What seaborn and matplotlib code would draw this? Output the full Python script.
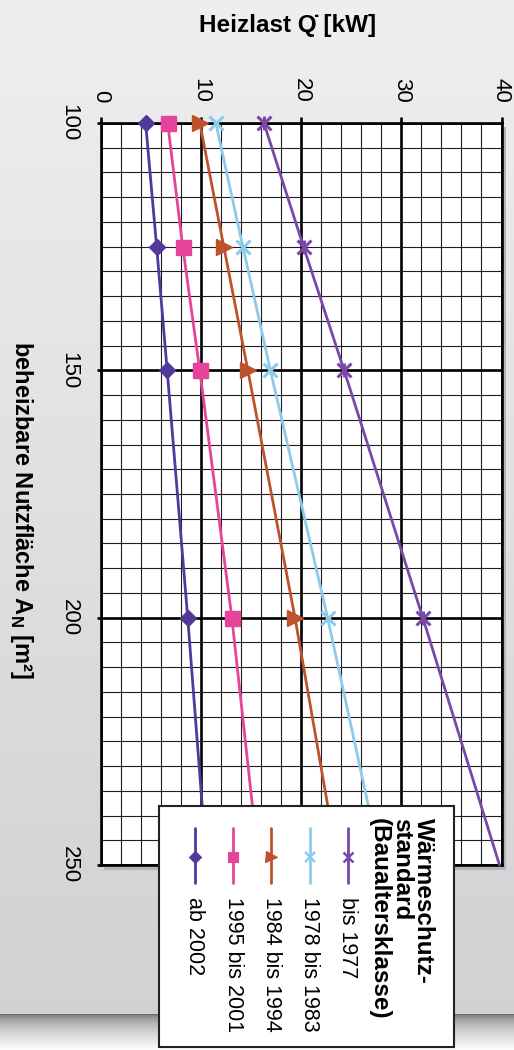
import numpy as np
import pandas as pd
import matplotlib
matplotlib.use("Agg")
import matplotlib.pyplot as plt
import seaborn as sns
from matplotlib.path import Path
from matplotlib.lines import Line2D
from matplotlib.patches import Rectangle

# ---------------- data ----------------
flaeche = [100, 125, 150, 200, 250]
heizlast_bis_1977 = [16.3, 20.25, 24.3, 32.15, 39.8]
heizlast_1978_1983 = [11.5, 14.2, 16.95, 22.65, 28.0]
heizlast_1984_1994 = [9.9, 12.3, 14.7, 19.4, 23.7]
heizlast_1995_2001 = [6.7, 8.2, 9.9, 13.1, 15.8]
heizlast_ab_2002 = [4.5, 5.6, 6.65, 8.7, 10.6]
klassen = ["bis 1977", "1978 bis 1983", "1984 bis 1994", "1995 bis 2001", "ab 2002"]
x_ticks = [0, 10, 20, 30, 40]
y_ticks = [100, 150, 200, 250]
legend_title = "Wärmeschutz-\nstandard\n(Baualtersklasse)"
x_title = "Heizlast Q\u0307 [kW]"
y_title = r"beheizbare Nutzfläche A$_{\mathregular{N}}$ [m²]"

series = [heizlast_bis_1977, heizlast_1978_1983, heizlast_1984_1994,
          heizlast_1995_2001, heizlast_ab_2002]

# ---------------- style ----------------
sns.set_theme(style="white")
plt.rcParams["font.family"] = ["Liberation Sans", "DejaVu Sans"]
plt.rcParams["mathtext.fontset"] = "custom"
plt.rcParams["mathtext.rm"] = "Liberation Sans:bold"
plt.rcParams["mathtext.bf"] = "Liberation Sans:bold"
for k in ["text.color", "axes.labelcolor", "xtick.color", "ytick.color", "xtick.labelcolor", "ytick.labelcolor"]:
    plt.rcParams[k] = "black"

star = Path([(-1, -1), (1, 1), (-1, 1), (1, -1), (0, -1), (0, 1)],
            [Path.MOVETO, Path.LINETO, Path.MOVETO, Path.LINETO, Path.MOVETO, Path.LINETO])

colors = ["#7a48a6", "#8ccbe9", "#be522c", "#e6449b", "#50399b"]
markers = [star, "x", ">", "s", "D"]
msizes = [10, 10, 11, 10.8, 8.3]
mews = [2.2, 2.2, 1.0, 1.0, 1.0]
filled = [False, False, True, True, True]

W, H = 514, 1050
fig = plt.figure(figsize=(W / 100, H / 100), dpi=100)

# background gradient
bg = fig.add_axes([0, 0, 1, 1], zorder=-10)
rows = np.zeros(H)
split = 1014
rows[:split] = np.linspace(0.937, 0.822, split)
t = np.linspace(0, 1, H - split)
rows[split:] = 0.42 + (0.985 - 0.42) * np.sqrt(t)
grad = np.repeat(rows[:, None], 2, axis=1)
grad = np.dstack([grad, grad, grad * 1.008]).clip(0, 1)
bg.imshow(grad, aspect="auto", extent=[0, W, H, 0], interpolation="bilinear")
bg.add_patch(Rectangle((104, 127), 402, 743, color="#b4b4b4", lw=0))
bg.set_xlim(0, W)
bg.set_ylim(H, 0)
bg.axis("off")

# main axes
left, right, top, bottom = 100.5, 501.5, 123, 865
ax = fig.add_axes([left / W, 1 - bottom / H, (right - left) / W, (bottom - top) / H], zorder=1)
ax.set_facecolor("white")

for vals, col, mk, ms, mew, fl in zip(series, colors, markers, msizes, mews, filled):
    sns.lineplot(x=vals, y=flaeche, orient="y", ax=ax, color=col, lw=2.0,
                 marker=mk, markersize=ms, markeredgewidth=mew,
                 markerfacecolor=col if fl else "none", markeredgecolor=col,
                 markevery=[0, 1, 2, 3], zorder=3, clip_on=False)

ax.set_xlim(0, 40)
ax.set_ylim(250, 100)
ax.xaxis.tick_top()
ax.set_xticks(x_ticks)
ax.set_xticks(np.arange(0, 41, 2), minor=True)
ax.set_yticks(y_ticks)
ax.set_yticks(np.arange(100, 251, 5), minor=True)
ax.grid(which="minor", color="#1e1e1e", lw=0.8, zorder=1)
ax.grid(which="major", color="black", lw=1.9, zorder=1)
ax.set_axisbelow(True)
for s in ax.spines.values():
    s.set_visible(True)
    s.set_color("black")
    s.set_linewidth(1.9)

ax.tick_params(axis="x", which="major", direction="out", length=4.5, width=1.9,
               pad=10, labelsize=16, labelrotation=-90, color="black", labelcolor="black",
               top=True, bottom=False, labeltop=True, labelbottom=False)
ax.tick_params(axis="y", which="major", direction="out", length=3, width=1.9,
               pad=12, labelsize=16, labelrotation=-90, color="black", labelcolor="black",
               left=True)
ax.tick_params(which="minor", length=0)
for lbl in ax.get_yticklabels():
    lbl.set_va("center")

ax.xaxis.set_label_position("top")
ax.set_xlabel(x_title, fontsize=17.5, fontweight="bold", va="center", ha="center", color="black")
ax.xaxis.set_label_coords((288 - left) / (right - left), 1 + (top - 26) / (bottom - top))
ax.set_ylabel(y_title, fontsize=17, fontweight="bold", rotation=-90, va="center", ha="center",
              color="black")
ax.yaxis.set_label_coords((21 - left) / (right - left), 1 - (510 - top) / (bottom - top))

# ---------------- rotated legend ----------------
def fx(px):
    return px / W

def fy(py):
    return 1 - py / H

fig.add_artist(Rectangle((fx(159), fy(1047)), fx(454) - fx(159), fy(806) - fy(1047),
                         transform=fig.transFigure, facecolor="white",
                         edgecolor="#222222", lw=1.5, zorder=5))
fig.text(fx(435), fy(818), legend_title, rotation=-90, ha="right", va="top",
         fontsize=17.5, fontweight="bold", linespacing=0.95, multialignment="left",
         zorder=6, color="black")
leg_x = [348, 309.5, 271, 233, 194.5]
for name, col, mk, ms, mew, fl, lx in zip(klassen, colors, markers, msizes, mews, filled, leg_x):
    fig.add_artist(Line2D([fx(lx)] * 3, [fy(828), fy(856.5), fy(883)],
                          transform=fig.transFigure, color=col, lw=2.0,
                          marker=mk, markersize=ms * 0.72, markeredgewidth=mew * 0.8,
                          markerfacecolor=col if fl else "none", markeredgecolor=col,
                          markevery=[1], zorder=6))
    fig.text(fx(lx), fy(897), name, rotation=-90, ha="center", va="top",
             fontsize=15.5, zorder=6, color="black")

fig.savefig("out.png", dpi=100)
